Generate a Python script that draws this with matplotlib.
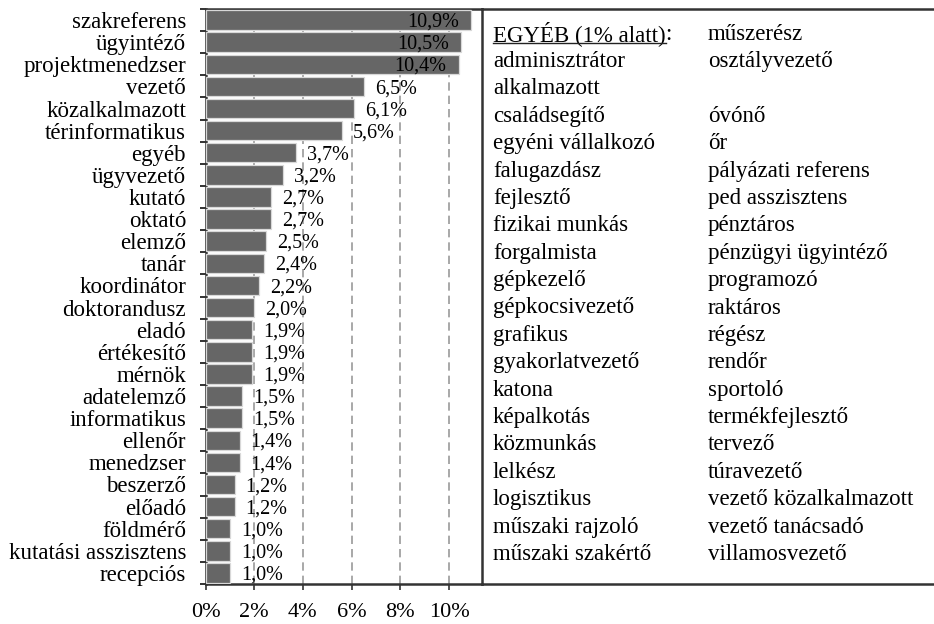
import matplotlib
matplotlib.use("Agg")
import matplotlib.pyplot as plt
from matplotlib.lines import Line2D

plt.rcParams['font.family'] = ['Liberation Serif', 'DejaVu Serif']

categories = ["szakreferens", "ügyintéző", "projektmenedzser", "vezető", "közalkalmazott",
              "térinformatikus", "egyéb", "ügyvezető", "kutató", "oktató", "elemző", "tanár",
              "koordinátor", "doktorandusz", "eladó", "értékesítő", "mérnök", "adatelemző",
              "informatikus", "ellenőr", "menedzser", "beszerző", "előadó", "földmérő",
              "kutatási asszisztens", "recepciós"]
values = [10.9, 10.5, 10.4, 6.5, 6.1, 5.6, 3.7, 3.2, 2.7, 2.7, 2.5, 2.4, 2.2, 2.0,
          1.9, 1.9, 1.9, 1.5, 1.5, 1.4, 1.4, 1.2, 1.2, 1.0, 1.0, 1.0]
xticks = [0, 2, 4, 6, 8, 10]

table_title = "EGYÉB (1% alatt)"
table_left = ["adminisztrátor", "alkalmazott", "családsegítő", "egyéni vállalkozó",
              "falugazdász", "fejlesztő", "fizikai munkás", "forgalmista", "gépkezelő",
              "gépkocsivezető", "grafikus", "gyakorlatvezető", "katona", "képalkotás",
              "közmunkás", "lelkész", "logisztikus", "műszaki rajzoló", "műszaki szakértő"]
table_right = ["műszerész", "osztályvezető", "", "óvónő", "őr", "pályázati referens",
               "ped asszisztens", "pénztáros", "pénzügyi ügyintéző", "programozó", "raktáros",
               "régész", "rendőr", "sportoló", "termékfejlesztő", "tervező", "túravezető",
               "vezető közalkalmazott", "vezető tanácsadó", "villamosvezető"]

W, H = 934, 624
fig = plt.figure(figsize=(W / 100, H / 100), dpi=100)

ax_l, ax_r, ax_t, ax_b = 205.5, 482, 9, 584
ax = fig.add_axes([ax_l / W, 1 - ax_b / H, (ax_r - ax_l) / W, (ax_b - ax_t) / H])
px_per_pct = (449 - 205.5) / 10
xmax = (ax_r - ax_l) / px_per_pct

n = len(categories)
ypos = list(range(n))
ax.barh(ypos, values, height=0.88, color='#666666', edgecolor='#d8d8d8', linewidth=0.9, zorder=3)
ax.set_ylim(n - 0.5, -0.5)
ax.set_xlim(0, xmax)

for x in xticks[1:]:
    ax.axvline(x, color='#9a9a9a', lw=1.2, ls=(0, (5, 3)), zorder=1)

for i, v in enumerate(values):
    lab = f"{v:.1f}%".replace('.', ',')
    if v >= 10:
        ax.text(v - 0.5, i + 0.1, lab, ha='right', va='center', fontsize=14.5, zorder=4)
    else:
        ax.text(v + 0.45, i + 0.1, lab, ha='left', va='center', fontsize=14.5, zorder=4)

ax.set_yticks(ypos)
ax.set_yticklabels(categories, fontsize=16.5)
ax.tick_params(axis='y', which='major', length=0, pad=14)
ax.set_yticks([i - 0.5 for i in range(n + 1)], minor=True)
ax.tick_params(axis='y', which='minor', length=4.5, width=1.4, color='#333333', direction='out')

ax.set_xticks(xticks)
ax.set_xticklabels([f"{x}%" for x in xticks], fontsize=16)
ax.tick_params(axis='x', length=4, width=1.2, color='#333333', pad=10)

for s in ['top', 'left', 'bottom']:
    ax.spines[s].set_linewidth(1.8)
    ax.spines[s].set_color('#333333')
ax.spines['right'].set_visible(False)

# table box
tb = fig.add_axes([ax_r / W, 1 - ax_b / H, (W - ax_r) / W, (ax_b - ax_t) / H])
tb.set_xlim(0, 1)
tb.set_ylim(0, 1)
tb.set_xticks([])
tb.set_yticks([])
for s in ['top', 'left', 'bottom']:
    tb.spines[s].set_linewidth(1.8)
    tb.spines[s].set_color('#333333')
tb.spines['right'].set_visible(False)
tb.patch.set_alpha(0)

tw = W - ax_r
th = ax_b - ax_t
c0 = (493 - ax_r) / tw
c1 = (708 - ax_r) / tw
def rowy(i):
    return 1 - ((34 + i * 27.4) - ax_t) / th

t0 = tb.text(c0, rowy(0), table_title, ha='left', va='center', fontsize=16.5)
fig.canvas.draw()
bb = t0.get_window_extent()
colon_x = (bb.x1 - ax_r) / tw
tb.text(colon_x, rowy(0), ":", ha='left', va='center', fontsize=16.5)
# underline
base_y_px = bb.y0 + 3
fig.add_artist(Line2D([bb.x0 / W, bb.x1 / W], [base_y_px / H, base_y_px / H],
                      color='#222222', lw=1.0))

for i, name in enumerate(table_left):
    tb.text(c0, rowy(i + 1), name, ha='left', va='center', fontsize=16.5)
for i, name in enumerate(table_right):
    if name:
        tb.text(c1, rowy(i), name, ha='left', va='center', fontsize=16.5)

fig.savefig("out.png", dpi=100)
